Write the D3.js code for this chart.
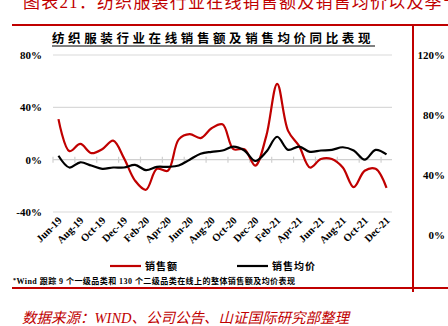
<!DOCTYPE html>
<html>
<head>
<meta charset="utf-8">
<script src="https://cdn.jsdelivr.net/npm/d3@7"></script>
<style>
  html, body { margin: 0; padding: 0; background: #fff; }
  svg { display: block; }
  .serif { font-family: "Liberation Serif", "DejaVu Serif", "Noto Sans CJK SC", serif; }
</style>
</head>
<body>
<svg id="chart" width="448" height="326"></svg>
<script>
// Monthly categories, Jun-19 .. Dec-21
const months = ["Jun-19","Jul-19","Aug-19","Sep-19","Oct-19","Nov-19","Dec-19","Jan-20","Feb-20","Mar-20","Apr-20","May-20",
  "Jun-20","Jul-20","Aug-20","Sep-20","Oct-20","Nov-20","Dec-20","Jan-21","Feb-21","Mar-21","Apr-21","May-21",
  "Jun-21","Jul-21","Aug-21","Sep-21","Oct-21","Nov-21","Dec-21"];

// YoY growth of online sales value (%)
const salesYoY = [31, 6.5, 12, 5, 8, 14.5, 1, -16, -23, -7, -8.5, 15.5,
  19.5, 16.5, 24, 27, 8, 8, -4.5, 18, 58, 22, 10.5, -6,
  0.5, 0.5, -6, -21, -8.5, -7, -21.5];

// YoY growth of average selling price (%)
const priceYoY = [3, -6, -2, -4.5, -7, -6, -6, -4, -8, -5.5, -5.5, -4.5,
  0, 4.5, 6, 7, 10, 7, -1, 6, 17.5, 7.5, 10, 6,
  7, 7.5, 9.5, 7, 0, 7.5, 4];

const leftTicks = [-40, 0, 40, 80];
const rightTicks = [0, 40, 80, 120];
const seriesNames = ["销售额", "销售均价"];
const seriesColors = ["#C00000", "#000000"];

const svg = d3.select("#chart");
const RED = "#C00000";

// Page heading (runs past the top and right edges)
svg.append("text")
  .attr("x", 23).attr("y", 8)
  .attr("fill", RED)
  .attr("font-family", "'Liberation Serif', 'Noto Sans CJK SC', serif")
  .attr("font-size", 17)
  .attr("letter-spacing", 1.2)
  .text("图表21：纺织服装行业在线销售额及销售均价以及季节性");

// Frame rules
svg.append("line").attr("x1", 12).attr("x2", 448).attr("y1", 25).attr("y2", 25)
  .attr("stroke", RED).attr("stroke-width", 2);
svg.append("line").attr("x1", 12).attr("x2", 448).attr("y1", 288).attr("y2", 288)
  .attr("stroke", RED).attr("stroke-width", 2);
svg.append("line").attr("x1", 413).attr("x2", 413).attr("y1", 25).attr("y2", 292)
  .attr("stroke", RED).attr("stroke-width", 2);

// Chart title, underlined
svg.append("text")
  .attr("x", 213).attr("y", 43)
  .attr("text-anchor", "middle")
  .attr("font-family", "'Noto Sans CJK SC', sans-serif")
  .attr("font-weight", "bold")
  .attr("font-size", 12.5)
  .attr("letter-spacing", 3.6)
  .attr("fill", "#000")
  .text("纺织服装行业在线销售额及销售均价同比表现");
svg.append("line").attr("x1", 52).attr("x2", 375).attr("y1", 46).attr("y2", 46)
  .attr("stroke", "#000").attr("stroke-width", 1);

// Scales
const x = d3.scaleBand().domain(months).range([53, 392]).padding(0);
const y = d3.scaleLinear().domain([-40, 80]).range([212, 55]);
const yRight = d3.scaleLinear().domain([0, 120]).range([235, 55]);
const cx = m => x(m) + x.bandwidth() / 2;

// Horizontal gridlines
svg.append("g").selectAll("line").data(leftTicks.filter(t => t !== 0)).join("line")
  .attr("x1", 53).attr("x2", 392)
  .attr("y1", d => y(d)).attr("y2", d => y(d))
  .attr("stroke", "#D9D9D9").attr("stroke-width", 1.2);

// Category axis on the zero line, tick marks every two months
const xAxisLine = svg.append("g");
xAxisLine.append("line").attr("x1", 53).attr("x2", 392)
  .attr("y1", y(0)).attr("y2", y(0))
  .attr("stroke", "#D0D0D0").attr("stroke-width", 1.3);
xAxisLine.selectAll("line.tick").data(months.filter((m, i) => i % 2 === 0)).join("line")
  .attr("class", "tick")
  .attr("x1", d => x(d)).attr("x2", d => x(d))
  .attr("y1", y(0) - 3).attr("y2", y(0) + 3)
  .attr("stroke", "#D0D0D0").attr("stroke-width", 1.2);

// Left value axis labels
svg.append("g").selectAll("text").data(leftTicks).join("text")
  .attr("class", "serif")
  .attr("x", 42).attr("y", d => y(d))
  .attr("dy", "0.35em")
  .attr("text-anchor", "end")
  .attr("font-weight", "bold").attr("font-size", 11)
  .text(d => d + "%");

// Right-hand scale labels
svg.append("g").selectAll("text").data(rightTicks).join("text")
  .attr("class", "serif")
  .attr("x", 445).attr("y", d => yRight(d))
  .attr("dy", "0.35em")
  .attr("text-anchor", "end")
  .attr("font-weight", "bold").attr("font-size", 11)
  .text(d => d + "%");

// Rotated month labels below the plot
svg.append("g").selectAll("text").data(months.filter((m, i) => i % 2 === 0)).join("text")
  .attr("class", "serif")
  .attr("transform", d => `translate(${cx(d) + 4},${221}) rotate(-45)`)
  .attr("text-anchor", "end")
  .attr("font-weight", "bold").attr("font-size", 10.5)
  .text(d => d);

// Series lines
const line = d3.line()
  .x((d, i) => cx(months[i]))
  .y(d => y(d))
  .curve(d3.curveCatmullRom.alpha(0.5));

[salesYoY, priceYoY].forEach((s, k) => {
  svg.append("path").datum(s)
    .attr("d", line)
    .attr("fill", "none")
    .attr("stroke", seriesColors[k])
    .attr("stroke-width", 2.2)
    .attr("stroke-linejoin", "round");
});

// Legend
const legendX = [110, 237];
seriesNames.forEach((name, k) => {
  const g = svg.append("g").attr("transform", `translate(${legendX[k]},266)`);
  g.append("line").attr("x1", 0).attr("x2", 31).attr("y1", 0).attr("y2", 0)
    .attr("stroke", seriesColors[k]).attr("stroke-width", 2.2);
  g.append("text").attr("x", 35).attr("y", 0).attr("dy", "0.36em")
    .attr("font-family", "'Noto Sans CJK SC', sans-serif")
    .attr("font-weight", "bold").attr("font-size", 10)
    .attr("letter-spacing", 1)
    .text(name);
});

// Footnote
const fn = svg.append("text")
  .attr("x", 13).attr("y", 284)
  .attr("font-family", "'Liberation Serif', 'Noto Sans CJK SC', serif")
  .attr("font-weight", "bold").attr("font-size", 8)
  .attr("letter-spacing", 0.45);
fn.append("tspan").attr("font-size", 6).attr("dy", -2).text("*");
fn.append("tspan").attr("dy", 2).text("Wind 跟踪 9 个一级品类和 130 个二级品类在线上的整体销售额及均价表现");

// Source line
svg.append("text")
  .attr("x", 22).attr("y", 323)
  .attr("fill", RED)
  .attr("font-family", "'Liberation Serif', 'Noto Sans CJK SC', serif")
  .attr("font-style", "italic")
  .attr("font-size", 14.5)
  .text("数据来源：WIND、公司公告、山证国际研究部整理");
</script>
</body>
</html>
